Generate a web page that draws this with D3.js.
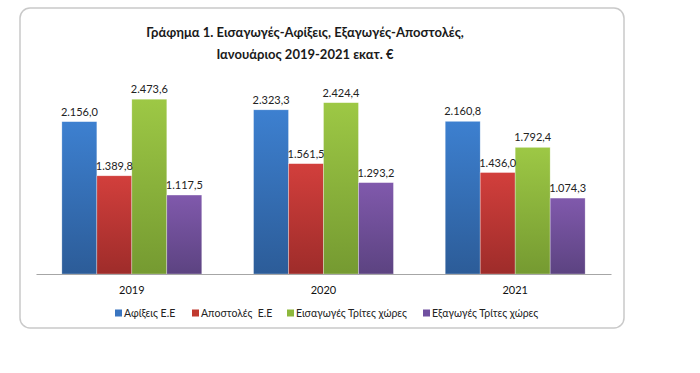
<!DOCTYPE html>
<html>
<head>
<meta charset="utf-8">
<script src="https://cdn.jsdelivr.net/npm/d3@7"></script>
<style>
  body { margin: 0; background: #fff; }
  svg { font-family: Lato, "Open Sans", sans-serif; }
</style>
</head>
<body>
<svg id="chart" width="700" height="373"></svg>
<script>
var years = ["2019", "2020", "2021"];
var seriesNames = ["Αφίξεις Ε.Ε", "Αποστολές  Ε.Ε", "Εισαγωγές Τρίτες χώρες", "Εξαγωγές Τρίτες χώρες"];
var afixeis = [2156.0, 2323.3, 2160.8];
var apostoles = [1389.8, 1561.5, 1436.0];
var eisagoges = [2473.6, 2424.4, 1792.4];
var exagoges = [1117.5, 1293.2, 1074.3];
var titleLines = ["Γράφημα 1. Εισαγωγές-Αφίξεις, Εξαγωγές-Αποστολές,", "Ιανουάριος 2019-2021 εκατ. €"];

var values = [afixeis, apostoles, eisagoges, exagoges];
var colors = [
    {top: "#3d80d0", bottom: "#2c5c98", legend: "#3a75c0"},
    {top: "#d23f3c", bottom: "#9e2c2a", legend: "#c0392f"},
    {top: "#9dc845", bottom: "#759a31", legend: "#8db83c"},
    {top: "#8059ac", bottom: "#5c4381", legend: "#7050a0"}
];

var svg = d3.select("#chart");

// frame
svg.append("rect")
    .attr("x", 20).attr("y", 8)
    .attr("width", 604).attr("height", 320)
    .attr("rx", 10)
    .attr("fill", "#fff")
    .attr("stroke", "#c9c9c9")
    .attr("stroke-width", 1.5);

var defs = svg.append("defs");
colors.forEach(function(c, i) {
    var g = defs.append("linearGradient")
        .attr("id", "grad" + i)
        .attr("x1", 0).attr("y1", 0).attr("x2", 0).attr("y2", 1);
    g.append("stop").attr("offset", "0%").attr("stop-color", c.top);
    g.append("stop").attr("offset", "100%").attr("stop-color", c.bottom);
});

var x0 = d3.scaleBand()
    .domain(years)
    .range([36, 611])
    .paddingInner(0.27)
    .paddingOuter(0.135);

var x1 = d3.scaleBand()
    .domain(d3.range(seriesNames.length))
    .range([0, x0.bandwidth()]);

var y = d3.scaleLinear()
    .domain([0, 3000])
    .range([274, 62]);

var fmt = function(v) {
    var s = d3.format(",.1f")(v);
    return s.replace(/,/g, "#").replace(".", ",").replace(/#/g, ".");
};

// title
svg.append("text")
    .attr("x", 305)
    .attr("y", 37)
    .attr("text-anchor", "middle")
    .style("font-size", "13px")
    .style("font-weight", "bold")
    .attr("fill", "#1a1a1a")
    .selectAll("tspan")
    .data(titleLines)
    .enter().append("tspan")
    .attr("x", 305)
    .attr("dy", function(d, i) { return i ? 22 : 0; })
    .text(function(d) { return d; });

// bars
var groups = svg.append("g").selectAll("g")
    .data(years)
    .enter().append("g")
    .attr("transform", function(d) { return "translate(" + x0(d) + ",0)"; });

groups.selectAll("rect")
    .data(function(d, j) { return values.map(function(s, i) { return {i: i, v: s[j]}; }); })
    .enter().append("rect")
    .attr("x", function(d) { return x1(d.i); })
    .attr("y", function(d) { return y(d.v); })
    .attr("width", x1.bandwidth())
    .attr("height", function(d) { return y(0) - y(d.v); })
    .attr("fill", function(d) { return "url(#grad" + d.i + ")"; })
    .attr("stroke", "rgba(255,255,255,0.5)")
    .attr("stroke-width", 0.6);

groups.selectAll("text")
    .data(function(d, j) { return values.map(function(s, i) { return {i: i, v: s[j]}; }); })
    .enter().append("text")
    .attr("x", function(d) { return x1(d.i) + x1.bandwidth() / 2; })
    .attr("y", function(d) { return y(d.v) - 6; })
    .attr("text-anchor", "middle")
    .style("font-size", "11px")
    .attr("fill", "#222")
    .text(function(d) { return fmt(d.v); });

// x axis
var xAxis = svg.append("g")
    .attr("transform", "translate(0," + y(0) + ")")
    .call(d3.axisBottom(x0).tickSize(0).tickPadding(12));
xAxis.select(".domain").attr("stroke", "#a6a6a6").attr("stroke-width", 1.2);
xAxis.selectAll("text")
    .style("font-size", "11px")
    .style("font-family", "Lato, sans-serif")
    .attr("fill", "#111");

// legend
var legendX = [115, 192, 287, 423];
var legend = svg.append("g").selectAll("g")
    .data(seriesNames)
    .enter().append("g")
    .attr("transform", function(d, i) { return "translate(" + legendX[i] + ",313)"; });
legend.append("rect")
    .attr("x", 0).attr("y", -3.5)
    .attr("width", 7).attr("height", 7)
    .attr("fill", function(d, i) { return colors[i].legend; });
legend.append("text")
    .attr("x", 9)
    .attr("y", 4)
    .style("font-size", "10.5px")
    .style("white-space", "pre")
    .attr("xml:space", "preserve")
    .attr("fill", "#222")
    .text(function(d) { return d; });
</script>
</body>
</html>
